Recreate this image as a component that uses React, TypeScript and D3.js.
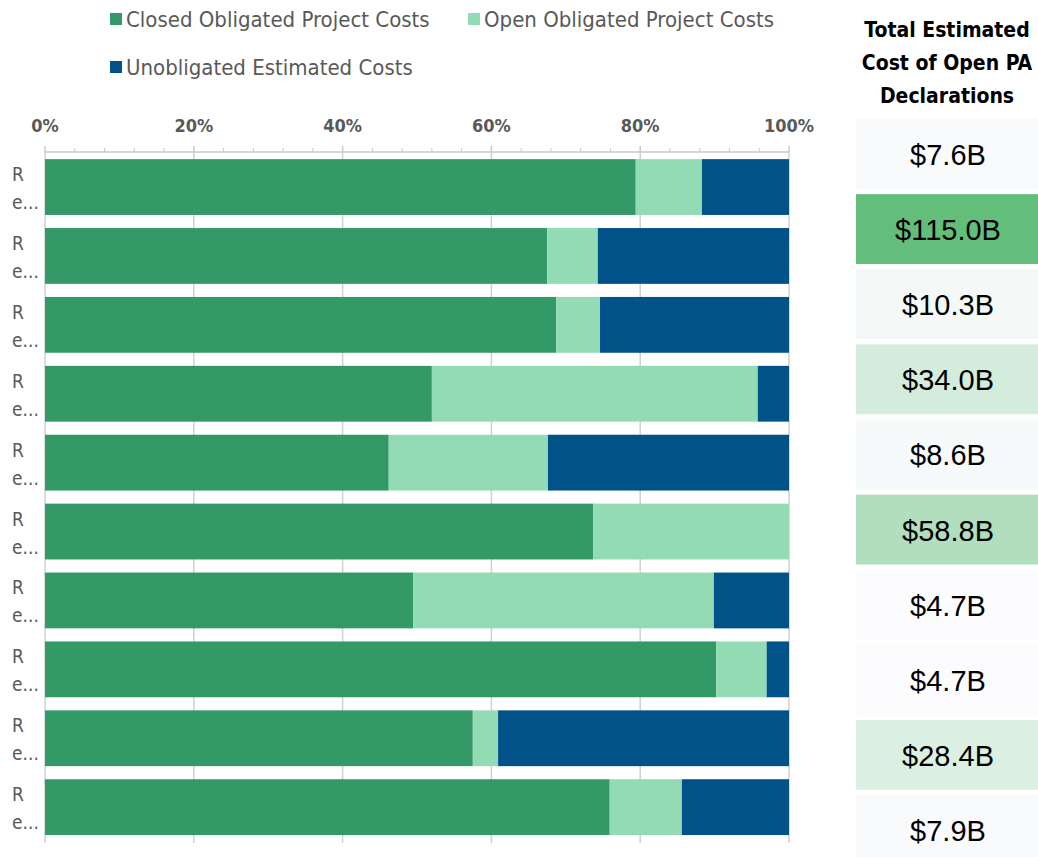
import React from "react"
import * as d3 from "d3"

// rows of the chart (labels truncated in the original)
const categories = ["Re...", "Re...", "Re...", "Re...", "Re...", "Re...", "Re...", "Re...", "Re...", "Re..."]
const closedPct = [79.4, 67.5, 68.7, 52.0, 46.2, 73.7, 49.5, 90.2, 57.5, 75.9]
const openPct = [8.9, 6.8, 5.9, 43.8, 21.4, 26.3, 40.4, 6.8, 3.4, 9.7]
const unobligatedPct = [11.7, 25.7, 25.4, 4.2, 32.4, 0, 10.1, 3.0, 39.1, 14.4]
const totalCost = [7.6, 115.0, 10.3, 34.0, 8.6, 58.8, 4.7, 4.7, 28.4, 7.9]
const seriesNames = ["Closed Obligated Project Costs", "Open Obligated Project Costs", "Unobligated Estimated Costs"]
const seriesColors = ["#339966", "#93dbb5", "#005288"]
const headerLines = ["Total Estimated", "Cost of Open PA", "Declarations"]

const W = 1038
const H = 857
const narrow = "'Liberation Sans Narrow', 'DejaVu Sans Condensed', 'Roboto', sans-serif"

export default function App() {
    const x = d3.scaleLinear().domain([0, 100]).range([45, 789])
    const y = d3.scaleBand<number>()
        .domain(d3.range(categories.length))
        .range([152.6, 841.6])
        .paddingInner(0.19)
        .paddingOuter(0.095)

    const rows = categories.map((c, i) => ({ "0": closedPct[i], "1": openPct[i], "2": unobligatedPct[i] }))
    const stacked = d3.stack<any>().keys(["0", "1", "2"])(rows)

    const cellY = d3.scaleBand<number>().domain(d3.range(totalCost.length)).range([119, 865]).paddingInner(0.07)
    const cellColor = d3.scaleLinear<string>()
        .domain([d3.min(totalCost)!, d3.max(totalCost)!])
        .range(["#fcfcff", "#63be7b"])

    const majors = d3.range(0, 101, 20)
    const minors = d3.range(0, 101, 4).filter(v => v % 20 !== 0)
    const axisY = 152

    return (
        <svg width={W} height={H} style={{ position: "absolute", left: 0, top: 0, background: "#fff" }}>
            {/* legend */}
            {seriesNames.map((s, i) => {
                const lx = i === 1 ? 468 : 110
                const ly = i === 2 ? 67 : 19
                return (
                    <g key={s}>
                        <rect x={lx} y={ly - 6} width={12} height={12} fill={seriesColors[i]} />
                        <text x={lx + 16} y={ly + 8} fontFamily={narrow} fontSize={22} fill="#595959">{s}</text>
                    </g>
                )
            })}

            {/* gridlines */}
            {majors.map(v => (
                <line key={"g" + v} x1={x(v)} x2={x(v)} y1={axisY} y2={843} stroke="#d0d0d0" strokeWidth={1.5} />
            ))}

            {/* axis */}
            <line x1={x(0)} x2={x(100)} y1={axisY} y2={axisY} stroke="#c8c8c8" strokeWidth={1.5} />
            {majors.map(v => (
                <line key={"t" + v} x1={x(v)} x2={x(v)} y1={axisY - 6} y2={axisY} stroke="#c8c8c8" strokeWidth={1.5} />
            ))}
            {minors.map(v => (
                <line key={"m" + v} x1={x(v)} x2={x(v)} y1={axisY - 4} y2={axisY} stroke="#c8c8c8" strokeWidth={1} />
            ))}
            {majors.map(v => (
                <text key={"l" + v} x={x(v)} y={132} textAnchor="middle" fontFamily={narrow} fontSize={18} fontWeight="bold" fill="#595959">
                    {v}%
                </text>
            ))}

            {/* bars */}
            {stacked.map((layer, k) => (
                <g key={k} fill={seriesColors[k]}>
                    {layer.map((d, i) => (
                        <rect key={i} x={x(d[0])} y={y(i)} width={Math.max(0, x(d[1]) - x(d[0]))} height={y.bandwidth()} />
                    ))}
                </g>
            ))}

            {/* category labels */}
            {categories.map((c, i) => {
                const cy = y(i)! + y.bandwidth() / 2
                return (
                    <text key={"c" + i} fontFamily={narrow} fontSize={19} fill="#595959">
                        <tspan x={12} y={cy - 6}>{c.slice(0, 1)}</tspan>
                        <tspan x={12} y={cy + 22}>{c.slice(1)}</tspan>
                    </text>
                )
            })}

            {/* header of value column */}
            {headerLines.map((t, i) => (
                <text key={t} x={947} y={37 + i * 33} textAnchor="middle" fontFamily={narrow} fontSize={21} fontWeight="bold" fill="#000">
                    {t}
                </text>
            ))}

            {/* value cells */}
            {totalCost.map((v, i) => (
                <g key={"v" + i}>
                    <rect x={856} y={cellY(i)} width={W - 856} height={cellY.bandwidth()} fill={cellColor(v)} />
                    <text x={948} y={cellY(i)! + cellY.bandwidth() / 2 + 11} textAnchor="middle"
                        fontFamily="'Liberation Sans', Arial, sans-serif" fontSize={29} fill="#000">
                        ${v.toFixed(1)}B
                    </text>
                </g>
            ))}
        </svg>
    )
}
